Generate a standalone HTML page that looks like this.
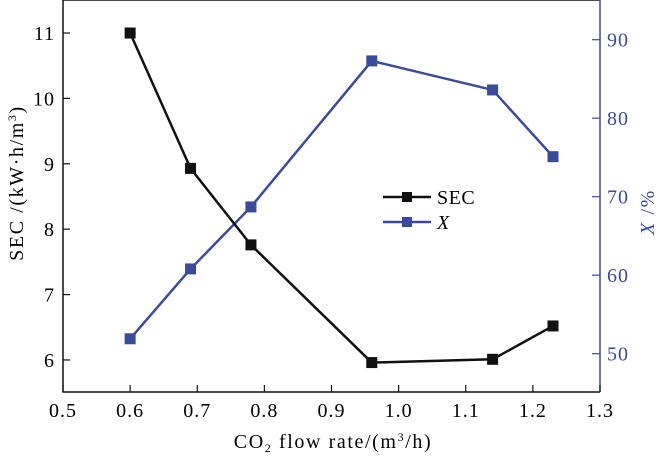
<!DOCTYPE html>
<html><head><meta charset="utf-8"><style>
body{margin:0;background:#fff}
svg{display:block;font-family:"Liberation Serif",serif}
</style></head><body>
<svg id="chart" width="668" height="457">
<g id="axes"></g><g id="series"></g>
<g>
<g>
<line x1="383" y1="197" x2="431" y2="197" stroke="#111" stroke-width="2.5"/>
<rect x="402" y="192" width="10" height="10" fill="#111"/>
<text x="437" y="204" font-size="20" letter-spacing="0.5">SEC</text></g>
<g>
<line x1="383" y1="222" x2="431" y2="222" stroke="#3b4b9c" stroke-width="2.5"/>
<rect x="402" y="217" width="10" height="10" fill="#3b4b9c"/>
<text x="437" y="229" font-size="20" font-style="italic">X</text></g>
</g>
<text x="333" y="448" text-anchor="middle" font-size="20" letter-spacing="1.6">CO<tspan font-size="12" dy="4">2</tspan><tspan dy="-4"> flow rate/(m</tspan><tspan font-size="12" dy="-7">3</tspan><tspan dy="7">/h)</tspan></text>
<text transform="translate(23,183) rotate(-90)" text-anchor="middle" font-size="20" letter-spacing="1.6">SEC /(kW·h/m<tspan font-size="12" dy="-7">3</tspan><tspan dy="7">)</tspan></text>
<text transform="translate(654,212) rotate(-90)" text-anchor="middle" font-size="20" letter-spacing="1.6" fill="#3b4b9c"><tspan font-style="italic">X</tspan> /%</text>
</svg>
<script>
const xValues=[0.6,0.69,0.78,0.96,1.14,1.23];
const secValues=[11.0,8.93,7.76,5.96,6.01,6.52];
const convValues=[51.9,60.8,68.7,87.3,83.6,75.1];
const xTicks=[0.5,0.6,0.7,0.8,0.9,1.0,1.1,1.2,1.3];
const xTickLabels=["0.5","0.6","0.7","0.8","0.9","1.0","1.1","1.2","1.3"];
const leftTicks=[6,7,8,9,10,11];
const rightTicks=[50,60,70,80,90];
const L=63,R=600,T=0,B=392;
const sx=v=>L+(v-0.5)/(0.8)*(R-L);
const sy=v=>B-(v-5.51)/(11.505-5.51)*(B-T);
const sy2=v=>B-(v-45.12)/(95.06-45.12)*(B-T);
const NS="http://www.w3.org/2000/svg";
function mk(tag,attrs,parent){const e=document.createElementNS(NS,tag);for(const k in attrs)e.setAttribute(k,attrs[k]);parent.appendChild(e);return e;}
const ax=document.getElementById('axes'),se=document.getElementById('series');
const blue="#3b4b9c";
let e;
e=mk('path',{d:`M${R},${T}H${L}V${B}H${R}`,fill:'none',stroke:'#111','stroke-width':1.5},ax);

e=mk('line',{x1:R,y1:T,x2:R,y2:B,stroke:blue,'stroke-width':1.5},ax);

xTicks.forEach((t,i)=>{
 e=mk('line',{x1:sx(t),y1:B,x2:sx(t),y2:B-7,stroke:'#111','stroke-width':1.2},ax);
 
 e=mk('text',{x:sx(t),y:B+25,'text-anchor':'middle','font-size':20,'letter-spacing':1},ax);e.textContent=xTickLabels[i];
 
});
leftTicks.forEach(t=>{
 e=mk('line',{x1:L,y1:sy(t),x2:L+7,y2:sy(t),stroke:'#111','stroke-width':1.2},ax);
 
 e=mk('text',{x:L-8,y:sy(t)+7,'text-anchor':'end','font-size':20,'letter-spacing':1},ax);e.textContent=t;
 
});
rightTicks.forEach(t=>{
 e=mk('line',{x1:R,y1:sy2(t),x2:R-8,y2:sy2(t),stroke:blue,'stroke-width':1.2},ax);
 
 e=mk('text',{x:R+7,y:sy2(t)+7,'font-size':20,'letter-spacing':1,fill:blue},ax);e.textContent=t;
 
});
function series(vals,scale,col,name){
 e=mk('polyline',{points:xValues.map((x,i)=>sx(x)+','+scale(vals[i])).join(' '),fill:'none',stroke:col,'stroke-width':2.5},se);
 
 xValues.forEach((x,i)=>{
  e=mk('rect',{x:sx(x)-5.5,y:scale(vals[i])-5.5,width:11,height:11,fill:col},se);
  
 });
}
series(convValues,sy2,blue,'x-series');
series(secValues,sy,'#111','sec-series');
</script>
</body></html>
